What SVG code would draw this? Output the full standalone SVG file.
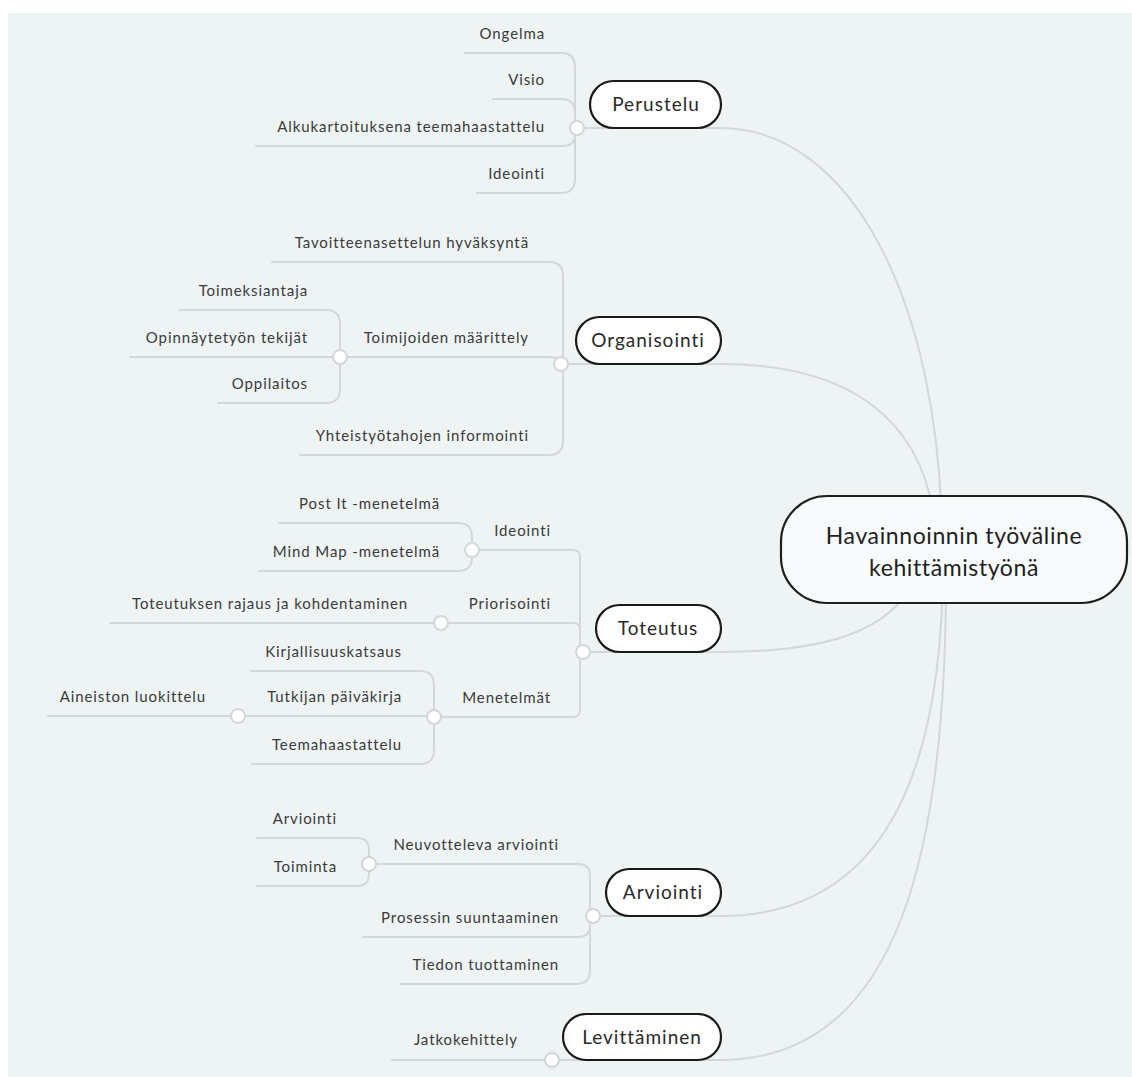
<svg xmlns="http://www.w3.org/2000/svg" width="1132" height="1077" viewBox="0 0 1132 1077">
<style>
.ln{fill:none;stroke:#d2d7da;stroke-width:2;stroke-linecap:round}
.dot{fill:#ffffff;stroke:#d2d7da;stroke-width:2}
.lbl{font-family:Lato,"Noto Sans",sans-serif;font-size:15px;letter-spacing:0.9px;fill:#3a3a3a;text-anchor:end}
.node{fill:#ffffff;stroke:#1a1a1a;stroke-width:2.2}
.nt{font-family:Lato,"Noto Sans",sans-serif;font-size:19px;letter-spacing:1px;fill:#2a2a2a;text-anchor:middle}
.ct{font-family:Lato,"Noto Sans",sans-serif;font-size:23px;letter-spacing:0.6px;fill:#1e1e1e;text-anchor:middle}
</style>
<rect x="8" y="13" width="1124" height="1064" fill="#eef4f4"/>
<g id="connectors">
<path class="ln" d="M577 128 H720 C850 128 940 300 942 540"/>
<path class="ln" d="M561 364 H720 C850 364 930 420 936 540"/>
<path class="ln" d="M583 652 H720 C830 652 890 630 915 580"/>
<path class="ln" d="M593 916 H720 C880 916 943 780 943 560"/>
<path class="ln" d="M552 1060 H720 C900 1060 948 850 946 560"/>
<path class="ln" d="M465 53 H561 Q575 53 575 67 V128"/>
<path class="ln" d="M493 99 H561 Q575 99 575 113 V128"/>
<path class="ln" d="M256 146 H563 Q575 146 575 134 V128"/>
<path class="ln" d="M477 193 H561 Q575 193 575 179 V128"/>
<path class="ln" d="M272 262 H549 Q563 262 563 276 V364"/>
<path class="ln" d="M340 357 H545 C555 357 561 358 561 364"/>
<path class="ln" d="M300 455 H549 Q563 455 563 441 V364"/>
<path class="ln" d="M180 310 H326 Q340 310 340 324 V357"/>
<path class="ln" d="M130 357 H340"/>
<path class="ln" d="M218 403 H326 Q340 403 340 389 V357"/>
<path class="ln" d="M472 550 H573 Q580 550 580 557 V652"/>
<path class="ln" d="M441 623 H573 Q580 623 580 630 V652"/>
<path class="ln" d="M434 717 H573 Q580 717 580 710 V652"/>
<path class="ln" d="M279 523 H458 Q472 523 472 537 V550"/>
<path class="ln" d="M259 571 H458 Q472 571 472 557 V550"/>
<path class="ln" d="M110 623 H441"/>
<path class="ln" d="M251 671 H420 Q434 671 434 685 V717"/>
<path class="ln" d="M238 716 H434"/>
<path class="ln" d="M252 764 H420 Q434 764 434 750 V717"/>
<path class="ln" d="M48 716 H238"/>
<path class="ln" d="M369 864 H578 Q590 864 590 876 V916"/>
<path class="ln" d="M363 937 H578 Q590 937 590 925 V916"/>
<path class="ln" d="M400 984 H576 Q590 984 590 970 V916"/>
<path class="ln" d="M257 838 H357 Q369 838 369 850 V864"/>
<path class="ln" d="M257 886 H357 Q369 886 369 874 V864"/>
<path class="ln" d="M392 1060 H552"/>
<circle class="dot" cx="577" cy="128" r="7"/>
<circle class="dot" cx="561" cy="364" r="7"/>
<circle class="dot" cx="340" cy="357" r="7"/>
<circle class="dot" cx="583" cy="652" r="7"/>
<circle class="dot" cx="472" cy="550" r="7"/>
<circle class="dot" cx="441" cy="623" r="7"/>
<circle class="dot" cx="434" cy="717" r="7"/>
<circle class="dot" cx="238" cy="716" r="7"/>
<circle class="dot" cx="593" cy="916" r="7"/>
<circle class="dot" cx="369" cy="864" r="7"/>
<circle class="dot" cx="552" cy="1060" r="7"/>
</g>
<g id="central">
<rect x="781" y="496" width="346" height="107" rx="46" fill="#f7fbfb" stroke="#1e1e1e" stroke-width="2.2"/>
<text class="ct" x="954" y="544">Havainnoinnin työväline</text>
<text class="ct" x="954" y="576">kehittämistyönä</text>
</g>
<g id="perustelu">
<rect class="node" x="590" y="81" width="131" height="47" rx="23.5"/>
<text class="nt" x="656" y="111">Perustelu</text>
</g>
<g id="perustelu-children">
<text class="lbl" x="545" y="39">Ongelma</text>
<text class="lbl" x="545" y="85">Visio</text>
<text class="lbl" x="545" y="132">Alkukartoituksena teemahaastattelu</text>
<text class="lbl" x="545" y="179">Ideointi</text>
</g>
<g id="organisointi">
<rect class="node" x="576" y="317" width="145" height="47" rx="23.5"/>
<text class="nt" x="648" y="347">Organisointi</text>
</g>
<g id="organisointi-children">
<text class="lbl" x="529" y="248">Tavoitteenasettelun hyväksyntä</text>
<text class="lbl" x="529" y="343">Toimijoiden määrittely</text>
<text class="lbl" x="529" y="441">Yhteistyötahojen informointi</text>
<text class="lbl" x="308" y="296">Toimeksiantaja</text>
<text class="lbl" x="308" y="343">Opinnäytetyön tekijät</text>
<text class="lbl" x="308" y="389">Oppilaitos</text>
</g>
<g id="toteutus">
<rect class="node" x="596" y="605" width="125" height="47" rx="23.5"/>
<text class="nt" x="658" y="635">Toteutus</text>
</g>
<g id="toteutus-children">
<text class="lbl" x="551" y="536">Ideointi</text>
<text class="lbl" x="551" y="609">Priorisointi</text>
<text class="lbl" x="551" y="703">Menetelmät</text>
<text class="lbl" x="440" y="509">Post It -menetelmä</text>
<text class="lbl" x="440" y="557">Mind Map -menetelmä</text>
<text class="lbl" x="408" y="609">Toteutuksen rajaus ja kohdentaminen</text>
<text class="lbl" x="402" y="657">Kirjallisuuskatsaus</text>
<text class="lbl" x="402" y="702">Tutkijan päiväkirja</text>
<text class="lbl" x="402" y="750">Teemahaastattelu</text>
<text class="lbl" x="206" y="702">Aineiston luokittelu</text>
</g>
<g id="arviointi">
<rect class="node" x="606" y="869" width="115" height="47" rx="23.5"/>
<text class="nt" x="663" y="899">Arviointi</text>
</g>
<g id="arviointi-children">
<text class="lbl" x="559" y="850">Neuvotteleva arviointi</text>
<text class="lbl" x="559" y="923">Prosessin suuntaaminen</text>
<text class="lbl" x="559" y="970">Tiedon tuottaminen</text>
<text class="lbl" x="337" y="824">Arviointi</text>
<text class="lbl" x="337" y="872">Toiminta</text>
</g>
<g id="levittaminen">
<rect class="node" x="563" y="1014" width="158" height="46" rx="23"/>
<text class="nt" x="642" y="1044">Levittäminen</text>
</g>
<g id="levittaminen-children">
<text class="lbl" x="518" y="1045">Jatkokehittely</text>
</g>
</svg>
